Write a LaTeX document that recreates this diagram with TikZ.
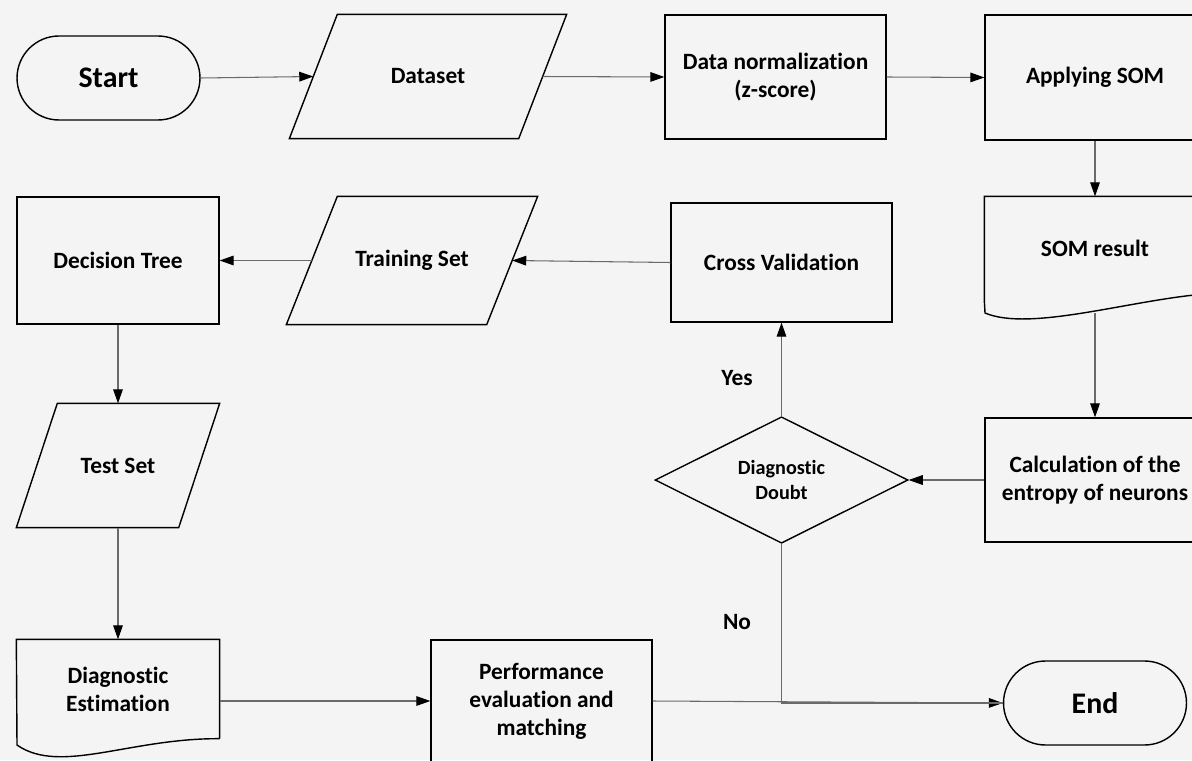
\documentclass[tikz,border=0pt]{standalone}
\usepackage{fontspec}
\setmainfont{Carlito}[Ligatures=NoCommon]
\usetikzlibrary{shapes.geometric,arrows.meta,calc}
\definecolor{bgcol}{HTML}{F4F4F4}
\definecolor{linecol}{HTML}{6A6A6A}

\begin{document}
\begin{tikzpicture}[x=0.02cm, y=-0.02cm,
   box/.style={draw=black, line width=0.8pt, rectangle, inner sep=0pt, align=center,
     font=\bfseries\fontsize{13.3}{16}\selectfont},
   slanted/.style={box, draw=none},
   docbox/.style={box, draw=none},
   term/.style={box, rounded corners=0.84cm, minimum width=3.66cm, minimum height=1.68cm,
     font=\bfseries\fontsize{17}{20}\selectfont},
   ask/.style={box, diamond, minimum width=5.06cm, minimum height=2.48cm,
     font=\bfseries\fontsize{11.5}{14.2}\selectfont},
   flow/.style={draw=linecol, line width=0.6pt, -{Triangle[length=8pt,width=5.5pt,color=black]}},
   tag/.style={font=\bfseries\fontsize{13.3}{16}\selectfont}]
   \fill[bgcol] (0,0) rectangle (1192,760);
   \clip (0,0) rectangle (1192,760);
   \node[term] (start) at (108.5,78) {Start};
   \node[slanted, minimum width=4.56cm, minimum height=2.46cm] (dataset) at (428,76.5) {Dataset};
   \node[box, minimum width=4.42cm, minimum height=2.48cm] (norm) at (775.5,77) {Data normalization\\(z-score)};
   \node[box, minimum width=4.4cm, minimum height=2.5cm] (som) at (1095,77.5) {Applying SOM};
   \node[docbox, minimum width=4.4cm, minimum height=2.06cm] (somres) at (1095,248.5) {SOM result};
   \node[box, minimum width=4.4cm, minimum height=2.48cm] (entropy) at (1095,480) {Calculation of the\\entropy of neurons};
   \node[ask] (doubt) at (781.5,480) {Diagnostic\\Doubt};
   \node[box, minimum width=4.42cm, minimum height=2.38cm] (crossval) at (781.5,262.5) {Cross Validation};
   \node[slanted, minimum width=3.98cm, minimum height=2.54cm] (train) at (412,260.5) {Training Set};
   \node[box, minimum width=4.04cm, minimum height=2.54cm] (dtree) at (118,260.5) {Decision Tree};
   \node[slanted, minimum width=3.22cm, minimum height=2.46cm] (test) at (118,465.5) {Test Set};
   \node[docbox, minimum width=4.04cm, minimum height=1.96cm] (diagest) at (118,689) {Diagnostic\\Estimation};
   \node[box, minimum width=4.42cm, minimum height=2.44cm] (perf) at (541.5,701) {Performance\\evaluation and\\matching};
   \node[term] (finish) at (1095,703) {End};
   \node[tag] (yes) at (737,378) {Yes};
   \node[tag] (no) at (737,622) {No};

   \foreach \n/\s in {dataset/24, train/25.5, test/20.5}
     \draw[line width=0.8pt] ([xshift=\s*0.02cm]\n.north west) -- ([xshift=\s*0.02cm]\n.north east)
       -- ([xshift=-\s*0.02cm]\n.south east) -- ([xshift=-\s*0.02cm]\n.south west) -- cycle;

   \draw[line width=0.8pt] (somres.south west) -- (somres.north west) -- (somres.north east) -- (1205,294)
     .. controls (1130,300) and (1030,332) .. (985,313) -- (somres.south west);
   \coordinate (somout) at (1095,313);
   \draw[line width=0.8pt] (diagest.south east) -- (diagest.north east) -- (diagest.north west) -- (17,745)
     .. controls (60,775) and (130,738) .. (diagest.south east);

   \draw[flow] (start.east) -- (dataset.west);
   \draw[flow] (dataset.east) -- (norm.west);
   \draw[flow] (norm.east) -- (som.west);
   \draw[flow] (som.south) -- (somres.north);
   \draw[flow] (somout) -- (entropy.north);
   \draw[flow] (entropy.west) -- (doubt.east);
   \draw[flow] (doubt.north) -- (crossval.south);
   \draw[flow] (crossval.west) -- (train.east);
   \draw[flow] (train.west) -- (dtree.east);
   \draw[flow] (dtree.south) -- (test.north);
   \draw[flow] (test.south) -- (diagest.north);
   \draw[flow] (diagest.east |- perf.west) -- (perf.west);
   \draw[flow] (perf.east) -- (finish.west);
   \draw[draw=linecol, line width=0.6pt] (doubt.south) |- (finish.west);
\end{tikzpicture}
\end{document}
